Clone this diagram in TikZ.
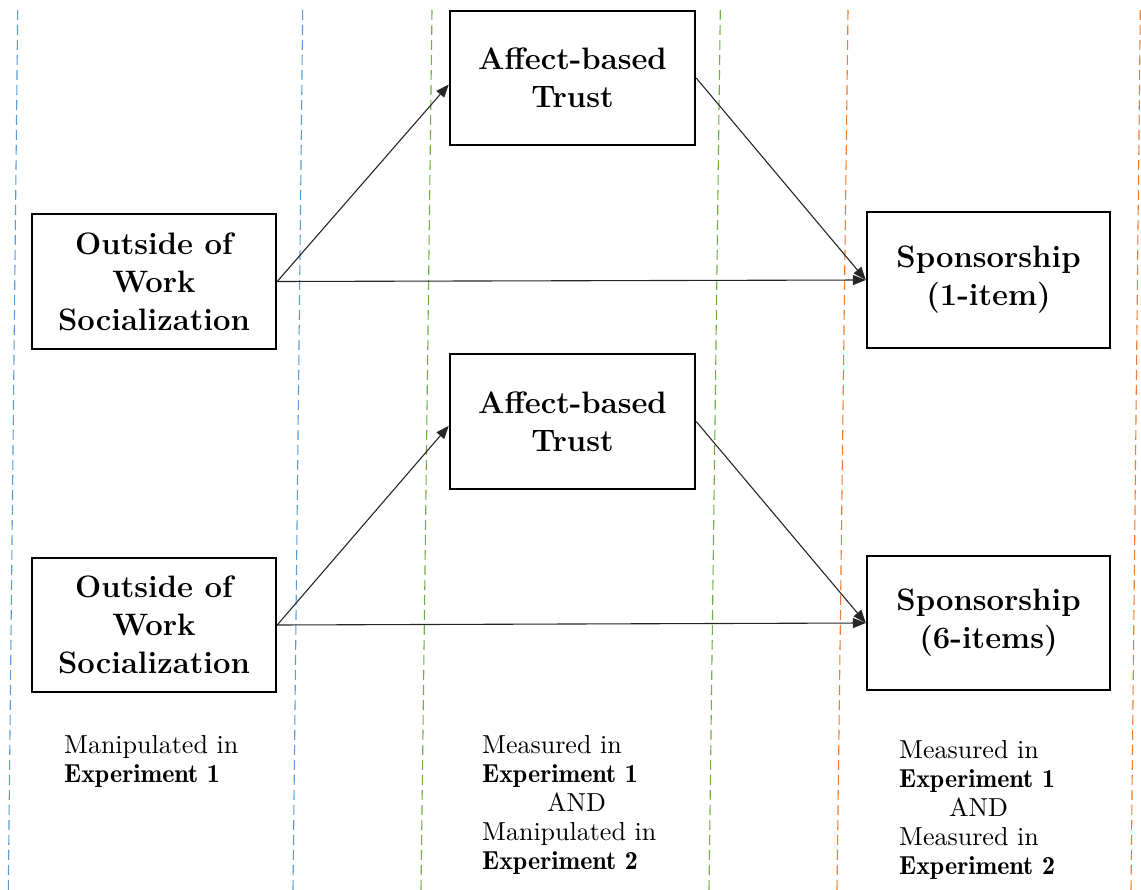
\documentclass[tikz,border=0pt]{standalone}
\usepackage{fontspec}
\newfontfamily\demifont{lmromandemi10-regular.otf}
\newfontfamily\regfont{lmroman10-regular.otf}
\usetikzlibrary{arrows.meta,calc}
\definecolor{gblue}{HTML}{5B9BD5}
\definecolor{ggreen}{HTML}{70AD47}
\definecolor{gorange}{HTML}{ED7D31}
\newcommand{\strongtxt}[1]{{\demifont #1}}
\tikzset{
  varbox/.style={draw=black, line width=2.4pt, fill=white, inner sep=0pt, align=center,
    font=\bfseries\fontsize{31}{38}\selectfont},
  link/.style={draw=black!85, line width=1.1pt, -{Triangle[length=13pt,width=10pt]}},
  sep/.style={line width=1.1pt, dash pattern=on 10pt off 5pt},
  note/.style={inner sep=0pt, align=left, anchor=north west, font=\regfont\fontsize{26}{29}\selectfont}
}
\begin{document}
\begin{tikzpicture}[x=1pt,y=-1pt]
\useasboundingbox (0,0) rectangle (1141,890);
% separators
\draw[sep, gblue] (17.7,10) -- (8.3,890);
\draw[sep, gblue] (302.7,10) -- (293,890);
\draw[sep, ggreen] (432,10) -- (421,890);
\draw[sep, ggreen] (720.3,10) -- (709,890);
\draw[sep, gorange] (848,10) -- (837,890);
\draw[sep, gorange] (1140.3,10) -- (1131,890);
% top model
\node[varbox, minimum width=244pt, minimum height=135pt] (ow1) at (154,281.5) {Outside of\\Work\\Socialization};
\node[varbox, minimum width=245pt, minimum height=134pt] (at1) at (572.5,78) {Affect-based\\Trust};
\node[varbox, minimum width=243pt, minimum height=136pt] (sp1) at (988.5,280) {Sponsorship\\(1-item)};
% bottom model
\node[varbox, minimum width=244pt, minimum height=134pt] (ow2) at (154,625) {Outside of\\Work\\Socialization};
\node[varbox, minimum width=245pt, minimum height=135pt] (at2) at (572.5,421.5) {Affect-based\\Trust};
\node[varbox, minimum width=243pt, minimum height=134pt] (sp2) at (988.5,623) {Sponsorship\\(6-items)};
% connectors
\draw[link] (ow1.east) -- (at1.183);
\draw[link] (at1.east) -- (sp1.west);
\draw[link] (ow1.east) -- (sp1.west);
\draw[link] (ow2.east) -- (at2.182);
\draw[link] (at2.east) -- (sp2.west);
\draw[link] (ow2.east) -- (sp2.west);
% notes
\node[note] (n1) at (64,735) {Manipulated in\\\strongtxt{Experiment 1}};
\node[note] (n2) at (482,735) {Measured in\\\strongtxt{Experiment 1}\\\hspace*{65pt}AND\\Manipulated in\\\strongtxt{Experiment 2}};
\node[note] (n3) at (899,740) {Measured in\\\strongtxt{Experiment 1}\\\hspace*{50pt}AND\\Measured in\\\strongtxt{Experiment 2}};
\end{tikzpicture}
\end{document}
